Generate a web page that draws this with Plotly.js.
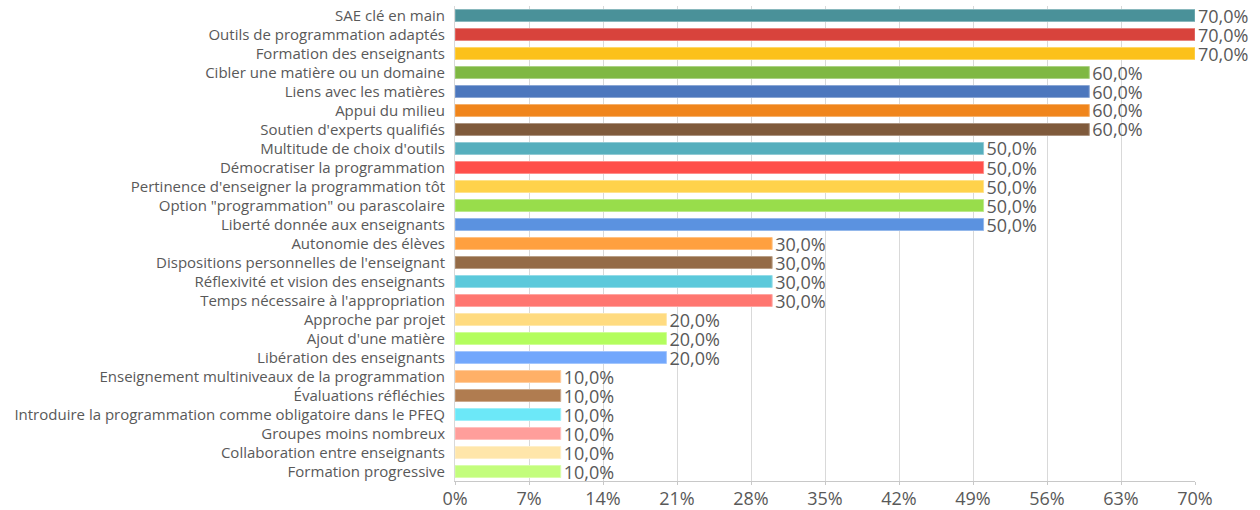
<!DOCTYPE html>
<html>
<head>
<meta charset="utf-8">
<script src="https://cdn.plot.ly/plotly-3.0.1.min.js"></script>
<style>
  html, body { margin: 0; padding: 0; background: #ffffff; }
  #chart { width: 1260px; height: 510px; }
</style>
</head>
<body>
<div id="chart"></div>
<script>
// Facteurs évoqués (pourcentage des répondants)
const categories = [
  "SAE clé en main",
  "Outils de programmation adaptés",
  "Formation des enseignants",
  "Cibler une matière ou un domaine",
  "Liens avec les matières",
  "Appui du milieu",
  "Soutien d'experts qualifiés",
  "Multitude de choix d'outils",
  "Démocratiser la programmation",
  "Pertinence d'enseigner la programmation tôt",
  "Option \"programmation\" ou parascolaire",
  "Liberté donnée aux enseignants",
  "Autonomie des élèves",
  "Dispositions personnelles de l'enseignant",
  "Réflexivité et vision des enseignants",
  "Temps nécessaire à l'appropriation",
  "Approche par projet",
  "Ajout d'une matière",
  "Libération des enseignants",
  "Enseignement multiniveaux de la programmation",
  "Évaluations réfléchies",
  "Introduire la programmation comme obligatoire dans le PFEQ",
  "Groupes moins nombreux",
  "Collaboration entre enseignants",
  "Formation progressive"
];

const values = [70, 70, 70, 60, 60, 60, 60, 50, 50, 50, 50, 50, 30, 30, 30, 30, 20, 20, 20, 10, 10, 10, 10, 10, 10];

const barColors = [
  "#4a9199", "#d8433c", "#fcc11b", "#7fb843", "#4c77bd", "#f0851b", "#7f5a3b",
  "#56aebd", "#ff4f4a", "#ffd24b", "#98dd4b", "#5b92e0",
  "#ffa03f", "#946b47", "#5cc9db", "#ff7670",
  "#ffdb80", "#b3fd5e", "#72a7fc",
  "#ffb067", "#b07c50", "#6ce8f8", "#ff9e9b", "#ffe6aa", "#c3fd7c"
];

const xTicks = [0, 7, 14, 21, 28, 35, 42, 49, 56, 63, 70];

// lighter outline for each bar
function lighten(hex, amt) {
  const n = parseInt(hex.slice(1), 16);
  const r = (n >> 16) & 255, g = (n >> 8) & 255, b = n & 255;
  const f = c => Math.round(c + (255 - c) * amt);
  return "rgb(" + f(r) + "," + f(g) + "," + f(b) + ")";
}

const labels = values.map(v => v.toFixed(1).replace(".", ",") + "%");

const trace = {
  type: "bar",
  orientation: "h",
  x: values,
  y: categories,
  text: labels,
  textposition: "outside",
  constraintext: "none",
  cliponaxis: false,
  textfont: { family: "Open Sans, sans-serif", size: 18, color: "#595959" },
  marker: {
    color: barColors,
    line: { color: barColors.map(c => lighten(c, 0.35)), width: 1 }
  },
  hoverinfo: "x+y"
};

const layout = {
  width: 1260,
  height: 510,
  margin: { l: 455, r: 65, t: 6, b: 29 },
  paper_bgcolor: "#ffffff",
  plot_bgcolor: "#ffffff",
  bargap: 0.37,
  showlegend: false,
  font: { family: "Open Sans, sans-serif", color: "#595959" },
  xaxis: {
    range: [0, 70],
    tickvals: xTicks,
    ticktext: xTicks.map(t => t + "%"),
    tickfont: { size: 18, color: "#595959" },
    showgrid: true,
    gridcolor: "#d9d9d9",
    gridwidth: 1,
    showline: true,
    linecolor: "#c8c8c8",
    linewidth: 1,
    ticks: "outside",
    ticklen: 3,
    tickcolor: "#c8c8c8",
    ticklabelstandoff: -2,
    zeroline: false,
    fixedrange: true
  },
  yaxis: {
    autorange: "reversed",
    tickfont: { size: 15, color: "#595959" },
    showline: true,
    linecolor: "#d9d9d9",
    linewidth: 1,
    ticks: "",
    ticklabelstandoff: 6,
    showgrid: false,
    zeroline: false,
    fixedrange: true
  }
};

Plotly.newPlot("chart", [trace], layout, { displayModeBar: false, staticPlot: true });
</script>
</body>
</html>
